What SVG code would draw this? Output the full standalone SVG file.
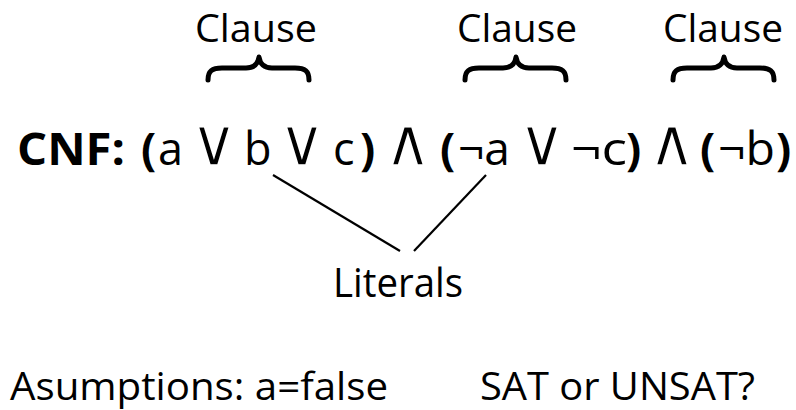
<svg xmlns="http://www.w3.org/2000/svg" xmlns:xlink="http://www.w3.org/1999/xlink" width="796" height="410" viewBox="0 0 796 410">
<style>
text{font-family:"Open Sans","Liberation Sans",sans-serif;fill:#000}
.lbl{font-size:39px}
.f{font-size:45px}
.b{font-weight:bold}
.op{font-family:"DejaVu Sans",sans-serif;font-size:66px;text-anchor:middle;stroke:#fff;stroke-width:1.6;paint-order:fill}
.brace{fill:none;stroke:#000;stroke-width:5;stroke-linecap:round;stroke-linejoin:round}
.conn{stroke:#000;stroke-width:2.2;fill:none}
</style>
<defs>
<path id="brace" class="brace" d="M2,80 C2,71 6,68 16,68 L40,68 C48,68 52,64 53,57 C54,64 58,68 66,68 L89,68 C99,68 103,71 103,80"/>
</defs>
<rect width="796" height="410" fill="#fff"/>
<g id="clause1">
<text class="lbl" x="256" y="42" text-anchor="middle" textLength="122" lengthAdjust="spacingAndGlyphs">Clause</text>
<use xlink:href="#brace" href="#brace" transform="translate(206,0)"/>
</g>
<g id="clause2">
<text class="lbl" x="517" y="42" text-anchor="middle" textLength="120" lengthAdjust="spacingAndGlyphs">Clause</text>
<use xlink:href="#brace" href="#brace" transform="translate(463,0)"/>
</g>
<g id="clause3">
<text class="lbl" x="723" y="42" text-anchor="middle" textLength="120" lengthAdjust="spacingAndGlyphs">Clause</text>
<use xlink:href="#brace" href="#brace" transform="translate(671,0)"/>
</g>
<g id="formula">
<text class="f" y="165"><tspan class="b" x="17" textLength="108" lengthAdjust="spacingAndGlyphs">CNF:</tspan><tspan class="b" x="141">(</tspan><tspan x="158">a</tspan><tspan class="op" x="214">∨</tspan><tspan x="244">b</tspan><tspan class="op" x="302">∨</tspan><tspan x="333">c</tspan><tspan class="b" x="360">)</tspan><tspan class="op" x="408">∧</tspan><tspan class="b" x="440">(</tspan><tspan x="458" textLength="52" lengthAdjust="spacingAndGlyphs">¬a</tspan><tspan class="op" x="542">∨</tspan><tspan x="571" textLength="56" lengthAdjust="spacingAndGlyphs">¬c</tspan><tspan class="b" x="626">)</tspan><tspan class="op" x="672">∧</tspan><tspan class="b" x="700">(</tspan><tspan x="718" textLength="57" lengthAdjust="spacingAndGlyphs">¬b</tspan><tspan class="b" x="776">)</tspan></text>
</g>
<g id="literals">
<text x="333" y="297" textLength="130" lengthAdjust="spacingAndGlyphs" style="font-size:40px">Literals</text>
</g>
<g id="connectors">
<line class="conn" x1="273" y1="175" x2="400" y2="251"/>
<line class="conn" x1="486" y1="175" x2="414" y2="251"/>
</g>
<g id="assumptions">
<text x="10" y="400" textLength="378" lengthAdjust="spacingAndGlyphs" style="font-size:39px">Asumptions: a=false</text>
</g>
<g id="question">
<text x="480" y="400" textLength="275" lengthAdjust="spacingAndGlyphs" style="font-size:39px">SAT or UNSAT?</text>
</g>
</svg>
